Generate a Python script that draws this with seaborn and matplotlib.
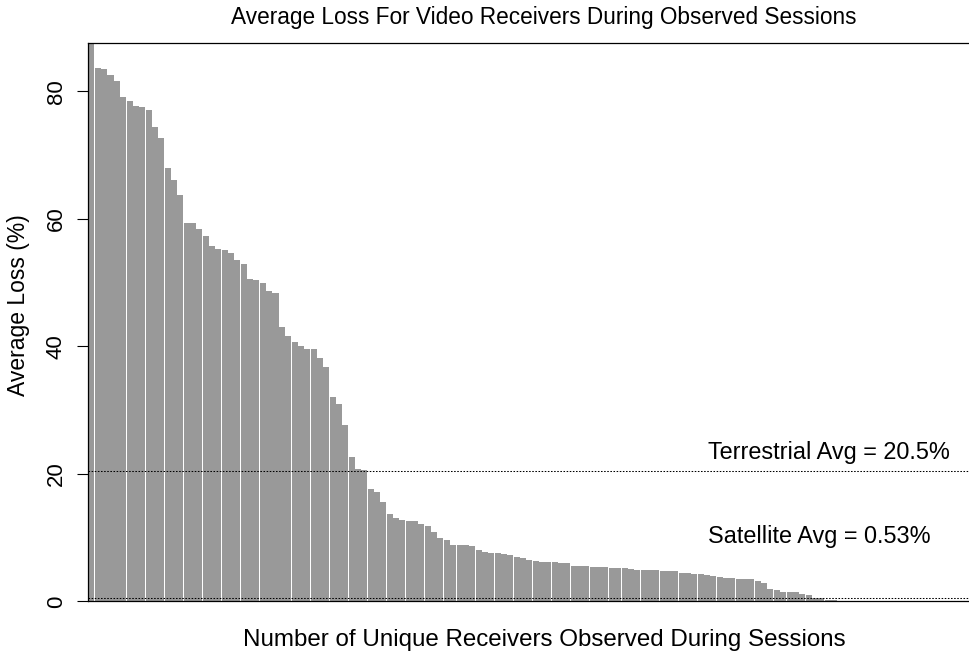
import numpy as np
import pandas as pd
import matplotlib
matplotlib.use("Agg")
import matplotlib.pyplot as plt
import seaborn as sns

# average loss (%) per receiver, sorted
loss = [
    87.5, 83.6, 83.4, 82.6, 81.6, 79.1, 78.5, 77.7, 77.5, 77.0,
    74.4, 72.7, 68.0, 66.1, 63.7, 59.3, 59.3, 58.4, 57.3, 55.8,
    55.3, 55.1, 54.6, 53.5, 52.9, 50.5, 50.4, 49.9, 48.6, 48.3,
    43.0, 41.6, 40.6, 40.1, 39.5, 39.5, 38.1, 36.8, 32.0, 30.9,
    27.7, 22.7, 20.8, 20.6, 17.7, 17.2, 15.6, 13.7, 13.1, 12.8,
    12.6, 12.6, 12.2, 11.8, 10.9, 10.0, 9.6, 8.9, 8.9, 8.9,
    8.7, 8.1, 7.8, 7.6, 7.6, 7.4, 7.3, 7.0, 6.8, 6.5,
    6.3, 6.2, 6.2, 6.2, 6.0, 6.0, 5.6, 5.6, 5.6, 5.4,
    5.4, 5.4, 5.2, 5.2, 5.2, 5.1, 5.0, 4.9, 4.9, 4.9,
    4.8, 4.8, 4.7, 4.5, 4.5, 4.3, 4.3, 4.1, 4.0, 3.8,
    3.7, 3.7, 3.5, 3.5, 3.5, 3.2, 2.9, 1.9, 1.8, 1.5,
    1.5, 1.5, 1.1, 1.0, 0.6, 0.5, 0.2, 0.2, 0.15,
]
terrestrial_avg = 20.5
satellite_avg = 0.53
yticks = [0, 20, 40, 60, 80]

df = pd.DataFrame({"rx": np.arange(len(loss)), "loss": loss})

plt.rcParams["font.family"] = ["Liberation Sans", "DejaVu Sans"]
plt.rcParams["font.size"] = 16

fig = plt.figure(figsize=(9.69, 6.52), dpi=100)
# axes runs past the right edge, as in the (cropped) original
ax = fig.add_axes([0.0911, 0.0775, 0.9398, 0.8561])

# slightly narrow bars without antialiasing -> thin white seams like the original
sns.barplot(data=df, x="rx", y="loss", color="#999999", saturation=1,
            width=0.95, linewidth=0, antialiased=False, ax=ax)

ax.axhline(terrestrial_avg, color="black", lw=0.75, ls=(0, (1.5, 1.5)))
ax.axhline(satellite_avg, color="black", lw=0.75, ls=(0, (1.5, 1.5)))

ax.text(97.2, 22.27, f"Terrestrial Avg = {terrestrial_avg}%", ha="left",
        va="baseline", fontsize=16.9)
ax.text(97.2, 9.21, f"Satellite Avg = {satellite_avg}%", ha="left",
        va="baseline", fontsize=16.9)

ax.set_xlim(-0.5, 143.0)
ax.set_ylim(0, 87.5)
ax.set_xticks([])
ax.set_xlabel("")
ax.set_ylabel("")
ax.set_yticks(yticks)
ax.set_yticklabels([str(t) for t in yticks], rotation=90, va="center")
ax.tick_params(axis="y", length=8, width=0.8, pad=7.5, direction="out")

for s in ["left", "top", "bottom"]:
    ax.spines[s].set_linewidth(0.9)
    ax.spines[s].set_color("black")
ax.spines["right"].set_visible(False)

fig.text(0.5609, 0.9632, "Average Loss For Video Receivers During Observed Sessions",
         ha="center", va="baseline", fontsize=16.3)
fig.text(0.5614, 0.0092, "Number of Unique Receivers Observed During Sessions",
         ha="center", va="baseline", fontsize=17.4)
fig.text(0.019, 0.532, "Average Loss (%)", rotation=90, ha="center", va="center",
         fontsize=16.5)

fig.savefig("out.png", dpi=100)
